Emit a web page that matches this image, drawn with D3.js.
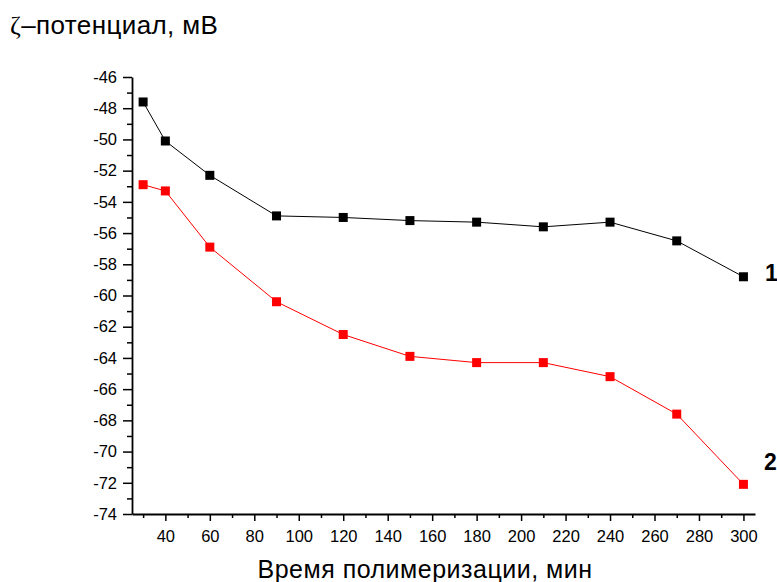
<!DOCTYPE html>
<html>
<head>
<meta charset="utf-8">
<script src="https://cdn.jsdelivr.net/npm/d3@7"></script>
<style>
  body { margin: 0; background: #fff; }
  svg { font-family: "Liberation Sans", Arial, sans-serif; }
</style>
</head>
<body>
<div id="chart"></div>
<script>
// время полимеризации, мин
const times = [30, 40, 60, 90, 120, 150, 180, 210, 240, 270, 300];
// кривая 1 (черная) и кривая 2 (красная), мВ
const series1 = [-47.6, -50.1, -52.3, -54.9, -55.0, -55.2, -55.3, -55.6, -55.3, -56.5, -58.8];
const series2 = [-52.9, -53.3, -56.9, -60.4, -62.5, -63.9, -64.3, -64.3, -65.2, -67.6, -72.1];
const xTicks = [40, 60, 80, 100, 120, 140, 160, 180, 200, 220, 240, 260, 280, 300];
const yTicks = [-46, -48, -50, -52, -54, -56, -58, -60, -62, -64, -66, -68, -70, -72, -74];

const W = 777, H = 582;
const margin = {top: 77, right: 22, bottom: 68, left: 132};
const width = W - margin.left - margin.right,
      height = H - margin.top - margin.bottom;

const svg = d3.select("#chart")
  .append("svg")
  .attr("width", W)
  .attr("height", H);

const g = svg.append("g")
  .attr("transform", `translate(${margin.left}, ${margin.top})`);

const x = d3.scaleLinear()
  .domain([25, 305.2])
  .range([0, width]);

const y = d3.scaleLinear()
  .domain([-74, -46])
  .range([height, 0]);

// минорные деления
g.append("g")
  .attr("transform", `translate(0, ${height})`)
  .call(d3.axisBottom(x).tickValues(d3.range(30, 301, 20)).tickSize(4).tickFormat(""))
  .call(a => a.select(".domain").remove());

g.append("g")
  .call(d3.axisLeft(y).tickValues(d3.range(-73, -46, 2)).tickSize(5).tickFormat(""))
  .call(a => a.select(".domain").remove());

const xAxis = g.append("g")
  .attr("transform", `translate(0, ${height})`)
  .call(d3.axisBottom(x).tickValues(xTicks).tickSize(7).tickPadding(9).tickSizeOuter(0));

const yAxis = g.append("g")
  .call(d3.axisLeft(y).tickValues(yTicks).tickSize(9).tickPadding(6)
    .tickFormat(d => String(d)).tickSizeOuter(0));

g.selectAll(".tick line").attr("stroke", "#000").attr("stroke-width", 1.5);
g.selectAll(".domain").attr("stroke", "#000").attr("stroke-width", 1.8);
g.selectAll(".tick text")
  .attr("font-family", "Liberation Sans, Arial, sans-serif")
  .attr("font-size", 16.5)
  .attr("fill", "#000");

function drawSeries(values, colour) {
  const pts = times.map((t, i) => ({t: t, v: values[i]}));
  g.append("path")
    .datum(pts)
    .attr("fill", "none")
    .attr("stroke", colour)
    .attr("stroke-width", 1)
    .attr("d", d3.line().x(d => x(d.t)).y(d => y(d.v)));
  g.selectAll(null)
    .data(pts)
    .enter()
    .append("rect")
    .attr("x", d => x(d.t) - 4.5)
    .attr("y", d => y(d.v) - 4.5)
    .attr("width", 9)
    .attr("height", 9)
    .attr("fill", colour);
}

drawSeries(series1, "#000");
drawSeries(series2, "#ff0000");

// номера кривых
g.append("text")
  .attr("x", x(300) + 28)
  .attr("y", y(series1[10]) + 4)
  .attr("text-anchor", "middle")
  .attr("font-size", 23)
  .attr("font-weight", "bold")
  .text("1");

g.append("text")
  .attr("x", x(300) + 27)
  .attr("y", y(series2[10]) - 14)
  .attr("text-anchor", "middle")
  .attr("font-size", 23)
  .attr("font-weight", "bold")
  .text("2");

// подписи осей
const title = svg.append("text")
  .attr("x", 10)
  .attr("y", 34)
  .attr("font-size", 26)
  .attr("letter-spacing", 0.4);
title.append("tspan").attr("font-family", "Liberation Serif, serif").text("ζ");
title.append("tspan").text("–потенциал, мВ");

svg.append("text")
  .attr("x", 425)
  .attr("y", 578)
  .attr("text-anchor", "middle")
  .attr("font-size", 25)
  .attr("letter-spacing", 0.5)
  .text("Время полимеризации, мин");
</script>
</body>
</html>
